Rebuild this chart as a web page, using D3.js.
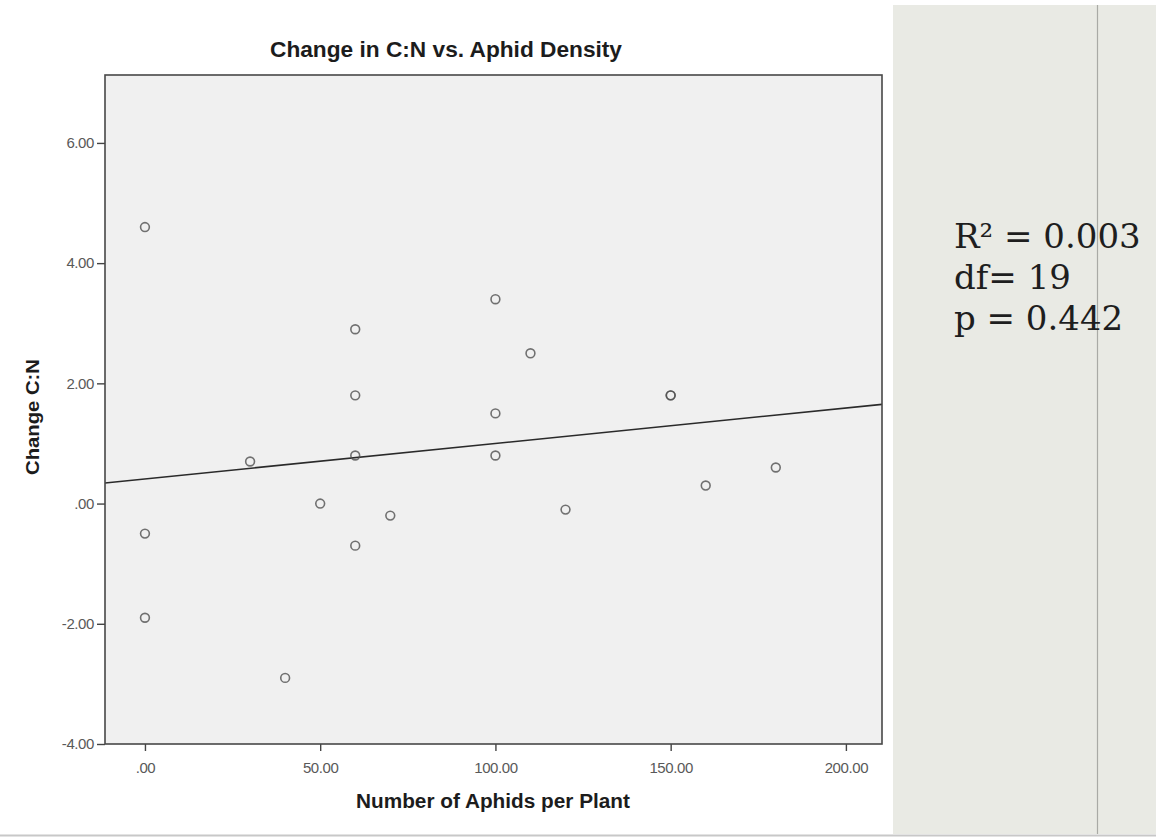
<!DOCTYPE html>
<html>
<head>
<meta charset="utf-8">
<script src="https://cdn.jsdelivr.net/npm/d3@7"></script>
<style>
  html, body { margin: 0; padding: 0; background: #fff; }
  svg { display: block; }
</style>
</head>
<body>
<div id="chart"></div>
<script>
// Puntos (áfidos por planta, cambio C:N)
const aphids = [0, 0, 0, 30, 40, 50, 60, 60, 60, 60, 70, 100, 100, 100, 110, 120, 150, 150, 160, 180];
const changeCN = [4.6, -0.5, -1.9, 0.7, -2.9, 0.0, 2.9, 1.8, 0.8, -0.7, -0.2, 3.4, 1.5, 0.8, 2.5, -0.1, 1.8, 1.8, 0.3, 0.6];

// Ticks de los ejes
const xTicks = [0, 50, 100, 150, 200];
const yTicks = [-4, -2, 0, 2, 4, 6];

// Recta de ajuste (intercepto, pendiente)
const fitIntercept = 0.41;
const fitSlope = 0.0059;

// Texto de estadísticos
const statLines = ["R² = 0.003", "df= 19", "p = 0.442"];

const width = 1156, height = 839;
const plot = { left: 105, right: 882, top: 75, bottom: 744 };

const svg = d3.select("#chart").append("svg")
    .attr("width", width)
    .attr("height", height);

// Escalas
const x = d3.scaleLinear().domain([-11.4, 210.3]).range([plot.left, plot.right]);
const y = d3.scaleLinear().domain([-4, 7.13]).range([plot.bottom, plot.top]);

// formato tipo SPSS: ".00", "-2.00"
const spss = d => d === 0 ? ".00" : d.toFixed(2);

// Panel derecho (diapositiva)
svg.append("rect")
    .attr("x", 893).attr("y", 5)
    .attr("width", width - 893).attr("height", 829)
    .attr("fill", "#e9eae4");
svg.append("line")
    .attr("x1", 1097.5).attr("x2", 1097.5)
    .attr("y1", 5).attr("y2", 834)
    .attr("stroke", "#a9aaa5").attr("stroke-width", 1.2);
svg.append("line")
    .attr("x1", 0).attr("x2", width)
    .attr("y1", 835.5).attr("y2", 835.5)
    .attr("stroke", "#c8c8c8").attr("stroke-width", 2);

// Fondo del área de trazado
svg.append("rect")
    .attr("x", plot.left).attr("y", plot.top)
    .attr("width", plot.right - plot.left).attr("height", plot.bottom - plot.top)
    .attr("fill", "#f0f0f0");

svg.append("clipPath").attr("id", "clip")
    .append("rect")
    .attr("x", plot.left).attr("y", plot.top)
    .attr("width", plot.right - plot.left).attr("height", plot.bottom - plot.top);

// Línea de regresión
const xd = x.domain();
svg.append("line")
    .attr("clip-path", "url(#clip)")
    .attr("x1", x(xd[0])).attr("y1", y(fitIntercept + fitSlope * xd[0]))
    .attr("x2", x(xd[1])).attr("y2", y(fitIntercept + fitSlope * xd[1]))
    .attr("stroke", "#2a2a2a")
    .attr("stroke-width", 1.6);

// Puntos
const points = aphids.map((a, i) => ({ a: a, c: changeCN[i] }));
svg.selectAll(".dot")
    .data(points)
    .enter()
    .append("circle")
    .attr("class", "dot")
    .attr("cx", d => x(d.a))
    .attr("cy", d => y(d.c))
    .attr("r", 4.4)
    .attr("fill", "none")
    .attr("stroke", "#505050")
    .attr("stroke-width", 1.6)
    .attr("stroke-opacity", 0.8);

// Ejes
const yAxis = svg.append("g")
    .attr("transform", `translate(${plot.left},0)`)
    .call(d3.axisLeft(y).tickValues(yTicks).tickSize(8).tickPadding(3).tickFormat(spss));

const xAxis = svg.append("g")
    .attr("transform", `translate(0,${plot.bottom})`)
    .call(d3.axisBottom(x).tickValues(xTicks).tickSize(7).tickPadding(11).tickFormat(spss));

[xAxis, yAxis].forEach(g => {
    g.select(".domain").remove();
    g.selectAll(".tick line").attr("stroke", "#444").attr("stroke-width", 1.4);
    g.selectAll(".tick text")
        .attr("fill", "#595959")
        .style("font-family", "'Liberation Sans', Arial, sans-serif")
        .style("font-size", "15px")
        .style("letter-spacing", "-0.4px");
});

// Marco
svg.append("rect")
    .attr("x", plot.left).attr("y", plot.top)
    .attr("width", plot.right - plot.left).attr("height", plot.bottom - plot.top)
    .attr("fill", "none")
    .attr("stroke", "#484848")
    .attr("stroke-width", 1.6);

// Títulos
svg.append("text")
    .attr("x", 446).attr("y", 57)
    .attr("text-anchor", "middle")
    .attr("textLength", 352)
    .attr("lengthAdjust", "spacingAndGlyphs")
    .style("font-family", "'Liberation Sans', Arial, sans-serif")
    .style("font-weight", "bold")
    .style("font-size", "22px")
    .attr("fill", "#1c1c1c")
    .text("Change in C:N vs. Aphid Density");

svg.append("text")
    .attr("x", 493).attr("y", 808)
    .attr("text-anchor", "middle")
    .attr("textLength", 274)
    .attr("lengthAdjust", "spacingAndGlyphs")
    .style("font-family", "'Liberation Sans', Arial, sans-serif")
    .style("font-weight", "bold")
    .style("font-size", "19.5px")
    .attr("fill", "#1c1c1c")
    .text("Number of Aphids per Plant");

svg.append("text")
    .attr("transform", "translate(39,417) rotate(-90)")
    .attr("text-anchor", "middle")
    .attr("textLength", 116)
    .attr("lengthAdjust", "spacingAndGlyphs")
    .style("font-family", "'Liberation Sans', Arial, sans-serif")
    .style("font-weight", "bold")
    .style("font-size", "18.5px")
    .attr("fill", "#1c1c1c")
    .text("Change C:N");

// Estadísticos
svg.selectAll(".stat")
    .data(statLines)
    .enter()
    .append("text")
    .attr("class", "stat")
    .attr("x", 954)
    .attr("y", (d, i) => 248 + i * 41)
    .style("font-family", "'DejaVu Serif', 'Liberation Serif', serif")
    .style("font-size", "34px")
    .attr("fill", "#1e1e1e")
    .text(d => d);
</script>
</body>
</html>
